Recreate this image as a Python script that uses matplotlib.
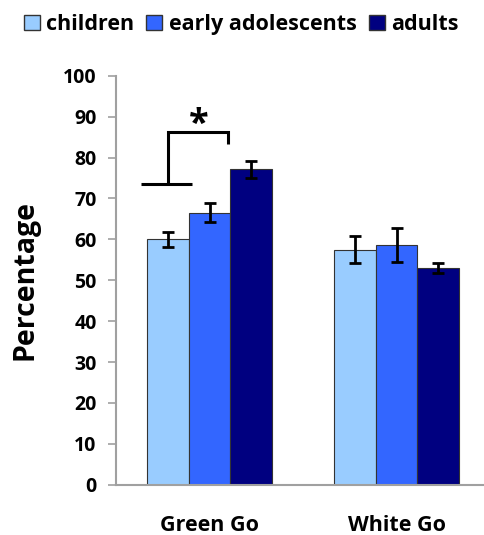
import matplotlib.pyplot as plt
import numpy as np
from matplotlib.patches import Patch

plt.rcParams["font.family"] = ["Open Sans", "DejaVu Sans"]
plt.rcParams["font.weight"] = "bold"

conditions = ["Green Go", "White Go"]
groups = ["children", "early adolescents", "adults"]
colors = ["#99CCFF", "#3366FF", "#000080"]

children = [60.0, 57.5]
early_adolescents = [66.5, 58.6]
adults = [77.1, 53.0]
children_err = [1.8, 3.4]
early_err = [2.3, 4.1]
adults_err = [2.1, 1.3]

values = [children, early_adolescents, adults]
errors = [children_err, early_err, adults_err]

AXIS_COLOR = "#A0A0A0"

fig = plt.figure(figsize=(4.85, 5.35), dpi=100)
ax = fig.add_axes([0.2392, 0.094, 0.7608, 0.7645])

x = np.arange(len(conditions))
width = 0.223
for i, (vals, errs) in enumerate(zip(values, errors)):
    ax.bar(x + (i - 1) * width, vals, width, color=colors[i],
           edgecolor="#333333", linewidth=0.8, zorder=2)
    ax.errorbar(x + (i - 1) * width, vals, yerr=errs, fmt="none",
                ecolor="black", elinewidth=2.0, capsize=4.5, capthick=2.0, zorder=3)

# significance bracket
ax.plot([-0.368, -0.095], [73.4, 73.4], color="black", lw=2.2, solid_capstyle="butt")
ax.plot([-0.223, -0.223, 0.10, 0.10], [73.4, 86.3, 86.3, 83.4], color="black",
        lw=2.2, solid_joinstyle="miter", solid_capstyle="butt")
ax.text(-0.06, 88.0, "*", ha="center", va="center", fontsize=26, fontweight="bold")

ax.set_xlim(-0.5, 1.473)
ax.set_ylim(0, 100)
ax.set_yticks(range(0, 101, 10))
ax.set_xticks(x)
ax.set_xticklabels(conditions, fontsize=15.5, fontweight="bold")
ax.tick_params(axis="x", length=0, pad=22)
ax.tick_params(axis="y", length=6, width=1.2, color=AXIS_COLOR, labelsize=14, pad=8)
for lab in ax.get_yticklabels():
    lab.set_fontweight("bold")

for spine in ["top", "right"]:
    ax.spines[spine].set_visible(False)
ax.spines["left"].set_color(AXIS_COLOR)
ax.spines["bottom"].set_color(AXIS_COLOR)
ax.spines["left"].set_linewidth(1.5)
ax.spines["bottom"].set_linewidth(1.5)

ax.set_ylabel("Percentage", fontsize=20.5, fontweight="bold", labelpad=17)

handles = [Patch(facecolor=c, edgecolor="#333333", linewidth=1.0) for c in colors]
fig.legend(handles, groups, loc="upper left", bbox_to_anchor=(0.02, 1.0), ncol=3,
           frameon=False, fontsize=15.5, handlelength=0.75, handleheight=0.75,
           handletextpad=0.3, columnspacing=0.55, borderaxespad=0.25)

fig.savefig("out.png", dpi=100)
